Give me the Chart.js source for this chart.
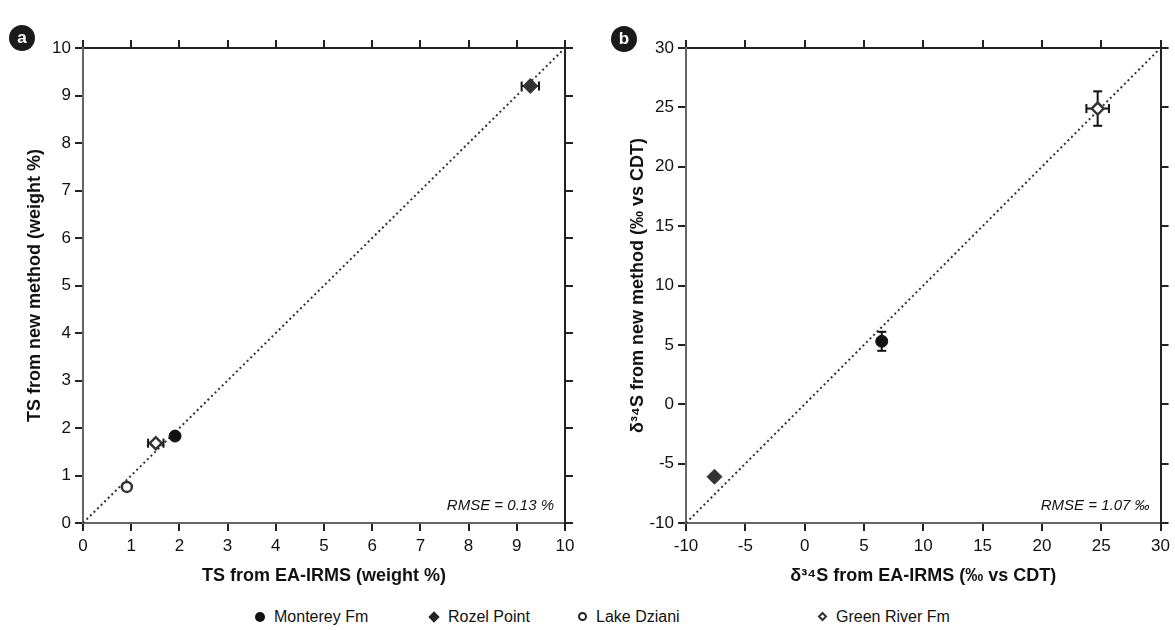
<!DOCTYPE html>
<html>
<head>
<meta charset="utf-8">
<script src="https://cdn.jsdelivr.net/npm/chart.js@4.4.0/dist/chart.umd.min.js"></script>
<style>
  body { margin: 0; background: #fff; width: 1175px; height: 630px; position: relative; overflow: hidden;
         font-family: 'Liberation Sans', Arial, sans-serif; color: #111; }
  .panel { position: absolute; top: 0; height: 591px; }
  #panelA { left: 0; width: 590px; }
  #panelB { left: 590px; width: 585px; }
  .badge { position: absolute; width: 26px; height: 26px; border-radius: 50%; background: #1a1a1a; color: #fff;
           font: bold 17px 'Liberation Sans', Arial, sans-serif; text-align: center; line-height: 25px; }
  .legend-item { position: absolute; top: 607px; font-size: 16px; white-space: nowrap; line-height: 20px; }
  .mk { display: inline-block; vertical-align: middle; box-sizing: border-box; margin-right: 9px; position: relative; top: -1px; }
  .mk-fcircle { width: 10px; height: 10px; border-radius: 50%; background: #111; }
  .mk-fdiamond { width: 8px; height: 8px; background: #222; transform: rotate(45deg); margin-left: 1px; margin-right: 10px; }
  .mk-ocircle { width: 9px; height: 9px; border-radius: 50%; border: 2px solid #222; background: #fff; }
  .mk-odiamond { width: 7px; height: 7px; border: 2px solid #333; background: #fff; transform: rotate(45deg); margin-left: 1px; margin-right: 10px; }
</style>
</head>
<body>
<div class="panel" id="panelA"><canvas id="chartA"></canvas></div>
<div class="panel" id="panelB"><canvas id="chartB"></canvas></div>
<div class="badge" style="left:9px; top:25px;">a</div>
<div class="badge" style="left:611px; top:26px;">b</div>

<div class="legend-item" style="left:255px;"><span class="mk mk-fcircle"></span>Monterey Fm</div>
<div class="legend-item" style="left:429px;"><span class="mk mk-fdiamond"></span>Rozel Point</div>
<div class="legend-item" style="left:578px;"><span class="mk mk-ocircle"></span>Lake Dziani</div>
<div class="legend-item" style="left:818px;"><span class="mk mk-odiamond"></span>Green River Fm</div>

<script>
// --- Datos ---
const SERIES = ['Monterey Fm', 'Rozel Point', 'Lake Dziani', 'Green River Fm'];

// panel a: azufre total (weight %)
const TS_RANGE = [0, 10];
const TS_STEP = 1;
const TS_EA = [1.91, 9.28, 0.91, 1.51];
const TS_NEW = [1.83, 9.2, 0.76, 1.68];
const TS_EA_ERR = [0.06, 0.18, 0, 0.16];
const TS_NEW_ERR = [0, 0, 0, 0];

// panel b: d34S (permil vs CDT) - Lake Dziani no aparece
const D34_RANGE = [-10, 30];
const D34_STEP = 5;
const D34_EA = [6.5, -7.6, null, 24.7];
const D34_NEW = [5.3, -6.1, null, 24.9];
const D34_EA_ERR = [0, 0, 0, 0.95];
const D34_NEW_ERR = [0.8, 0, 0, 1.45];

// --- Estilos ---
const FONT = "'Liberation Sans', Arial, sans-serif";
const PT_STYLE = ['circle', 'rectRot', 'circle', 'rectRot'];
const PT_RADIUS = [6, 7.5, 5, 6];
const PT_FILL = ['#111', '#333', '#fff', '#fff'];
const PT_LINE = ['#111', '#333', '#333', '#333'];
const PT_WIDTH = [1, 1, 2.5, 2.5];

// barras de error + texto RMSE
const errorBarPlugin = {
  id: 'errorBars',
  beforeDatasetsDraw(chart, args, opts) {
    const { ctx } = chart;
    const x = chart.scales.x, y = chart.scales.y;
    const cap = 4.5;
    ctx.save();
    ctx.strokeStyle = '#111';
    ctx.lineWidth = 2;
    const seg = (x1, y1, x2, y2) => { ctx.beginPath(); ctx.moveTo(x1, y1); ctx.lineTo(x2, y2); ctx.stroke(); };
    opts.xs.forEach((xv, i) => {
      if (xv == null) return;
      const px = x.getPixelForValue(xv), py = y.getPixelForValue(opts.ys[i]);
      const ex = opts.xErr[i], ey = opts.yErr[i];
      if (ex) {
        const l = x.getPixelForValue(xv - ex), r = x.getPixelForValue(xv + ex);
        seg(l, py, r, py); seg(l, py - cap, l, py + cap); seg(r, py - cap, r, py + cap);
      }
      if (ey) {
        const t = y.getPixelForValue(opts.ys[i] + ey), b = y.getPixelForValue(opts.ys[i] - ey);
        seg(px, t, px, b); seg(px - cap, t, px + cap, t); seg(px - cap, b, px + cap, b);
      }
    });
    ctx.restore();
  },
  afterDraw(chart, args, opts) {
    const { ctx, chartArea } = chart;
    ctx.save();
    ctx.font = 'italic 15px ' + FONT;
    ctx.fillStyle = '#111';
    ctx.textAlign = 'right';
    ctx.textBaseline = 'middle';
    ctx.fillText(opts.rmse, chartArea.right - 11, chartArea.bottom - 17);
    ctx.restore();
  }
};

const buildScales = (range, step, xTitle, yTitle, rightWidth) => {
  const grid = { drawOnChartArea: false, drawTicks: true, tickLength: 8, color: '#222', lineWidth: 2 };
  const tickFont = { family: FONT, size: 17 };
  const titleFont = { family: FONT, size: 18, weight: 'bold' };
  const base = { type: 'linear', min: range[0], max: range[1], grid };
  return {
    x: { ...base, position: 'bottom',
         ticks: { stepSize: step, font: tickFont, color: '#111', padding: 5, maxRotation: 0 },
         border: { color: '#666', width: 2 },
         title: { display: true, text: xTitle, font: titleFont, color: '#111' },
         afterFit: s => { s.height = 68; } },
    x2: { ...base, position: 'top', ticks: { stepSize: step, display: false },
          border: { color: '#222', width: 2 }, afterFit: s => { s.height = 48; } },
    y: { ...base, position: 'left',
         ticks: { stepSize: step, font: tickFont, color: '#111', padding: 4 },
         border: { color: '#666', width: 2 },
         title: { display: true, text: yTitle, font: titleFont, color: '#111' },
         afterFit: s => { s.width = 63; } },
    y2: { ...base, position: 'right', ticks: { stepSize: step, display: false },
          border: { color: '#222', width: 2 }, afterFit: s => { s.width = rightWidth; } }
  };
};

const makeChart = (canvasId, range, step, xs, ys, xErr, yErr, xTitle, yTitle, rmse, padLeft, rightWidth) => {
  const datasets = SERIES.map((name, i) => ({
    label: name,
    data: xs[i] == null ? [] : [{ x: xs[i], y: ys[i] }],
    pointStyle: PT_STYLE[i],
    pointRadius: PT_RADIUS[i],
    pointHoverRadius: PT_RADIUS[i],
    backgroundColor: PT_FILL[i],
    borderColor: PT_LINE[i],
    borderWidth: PT_WIDTH[i]
  }));
  // linea 1:1 (ultima => dibujada debajo)
  datasets.push({
    label: '1:1',
    data: [{ x: range[0], y: range[0] }, { x: range[1], y: range[1] }],
    showLine: true,
    pointRadius: 0,
    borderColor: '#333',
    borderWidth: 2,
    borderDash: [2, 3],
    fill: false
  });

  return new Chart(document.getElementById(canvasId), {
    type: 'scatter',
    data: { datasets },
    options: {
      responsive: true,
      maintainAspectRatio: false,
      animation: false,
      layout: { padding: { left: padLeft, right: 0, top: 0, bottom: 0 } },
      plugins: {
        legend: { display: false },
        tooltip: { enabled: false },
        errorBars: { xs, ys, xErr, yErr, rmse }
      },
      scales: buildScales(range, step, xTitle, yTitle, rightWidth)
    },
    plugins: [errorBarPlugin]
  });
};

makeChart('chartA', TS_RANGE, TS_STEP, TS_EA, TS_NEW, TS_EA_ERR, TS_NEW_ERR,
  'TS from EA-IRMS (weight %)', 'TS from new method (weight %)', 'RMSE = 0.13 %', 20, 25);

makeChart('chartB', D34_RANGE, D34_STEP, D34_EA, D34_NEW, D34_EA_ERR, D34_NEW_ERR,
  'δ³⁴S from EA-IRMS (‰ vs CDT)', 'δ³⁴S from new method (‰ vs CDT)', 'RMSE = 1.07 ‰', 33, 11);
</script>
</body>
</html>
